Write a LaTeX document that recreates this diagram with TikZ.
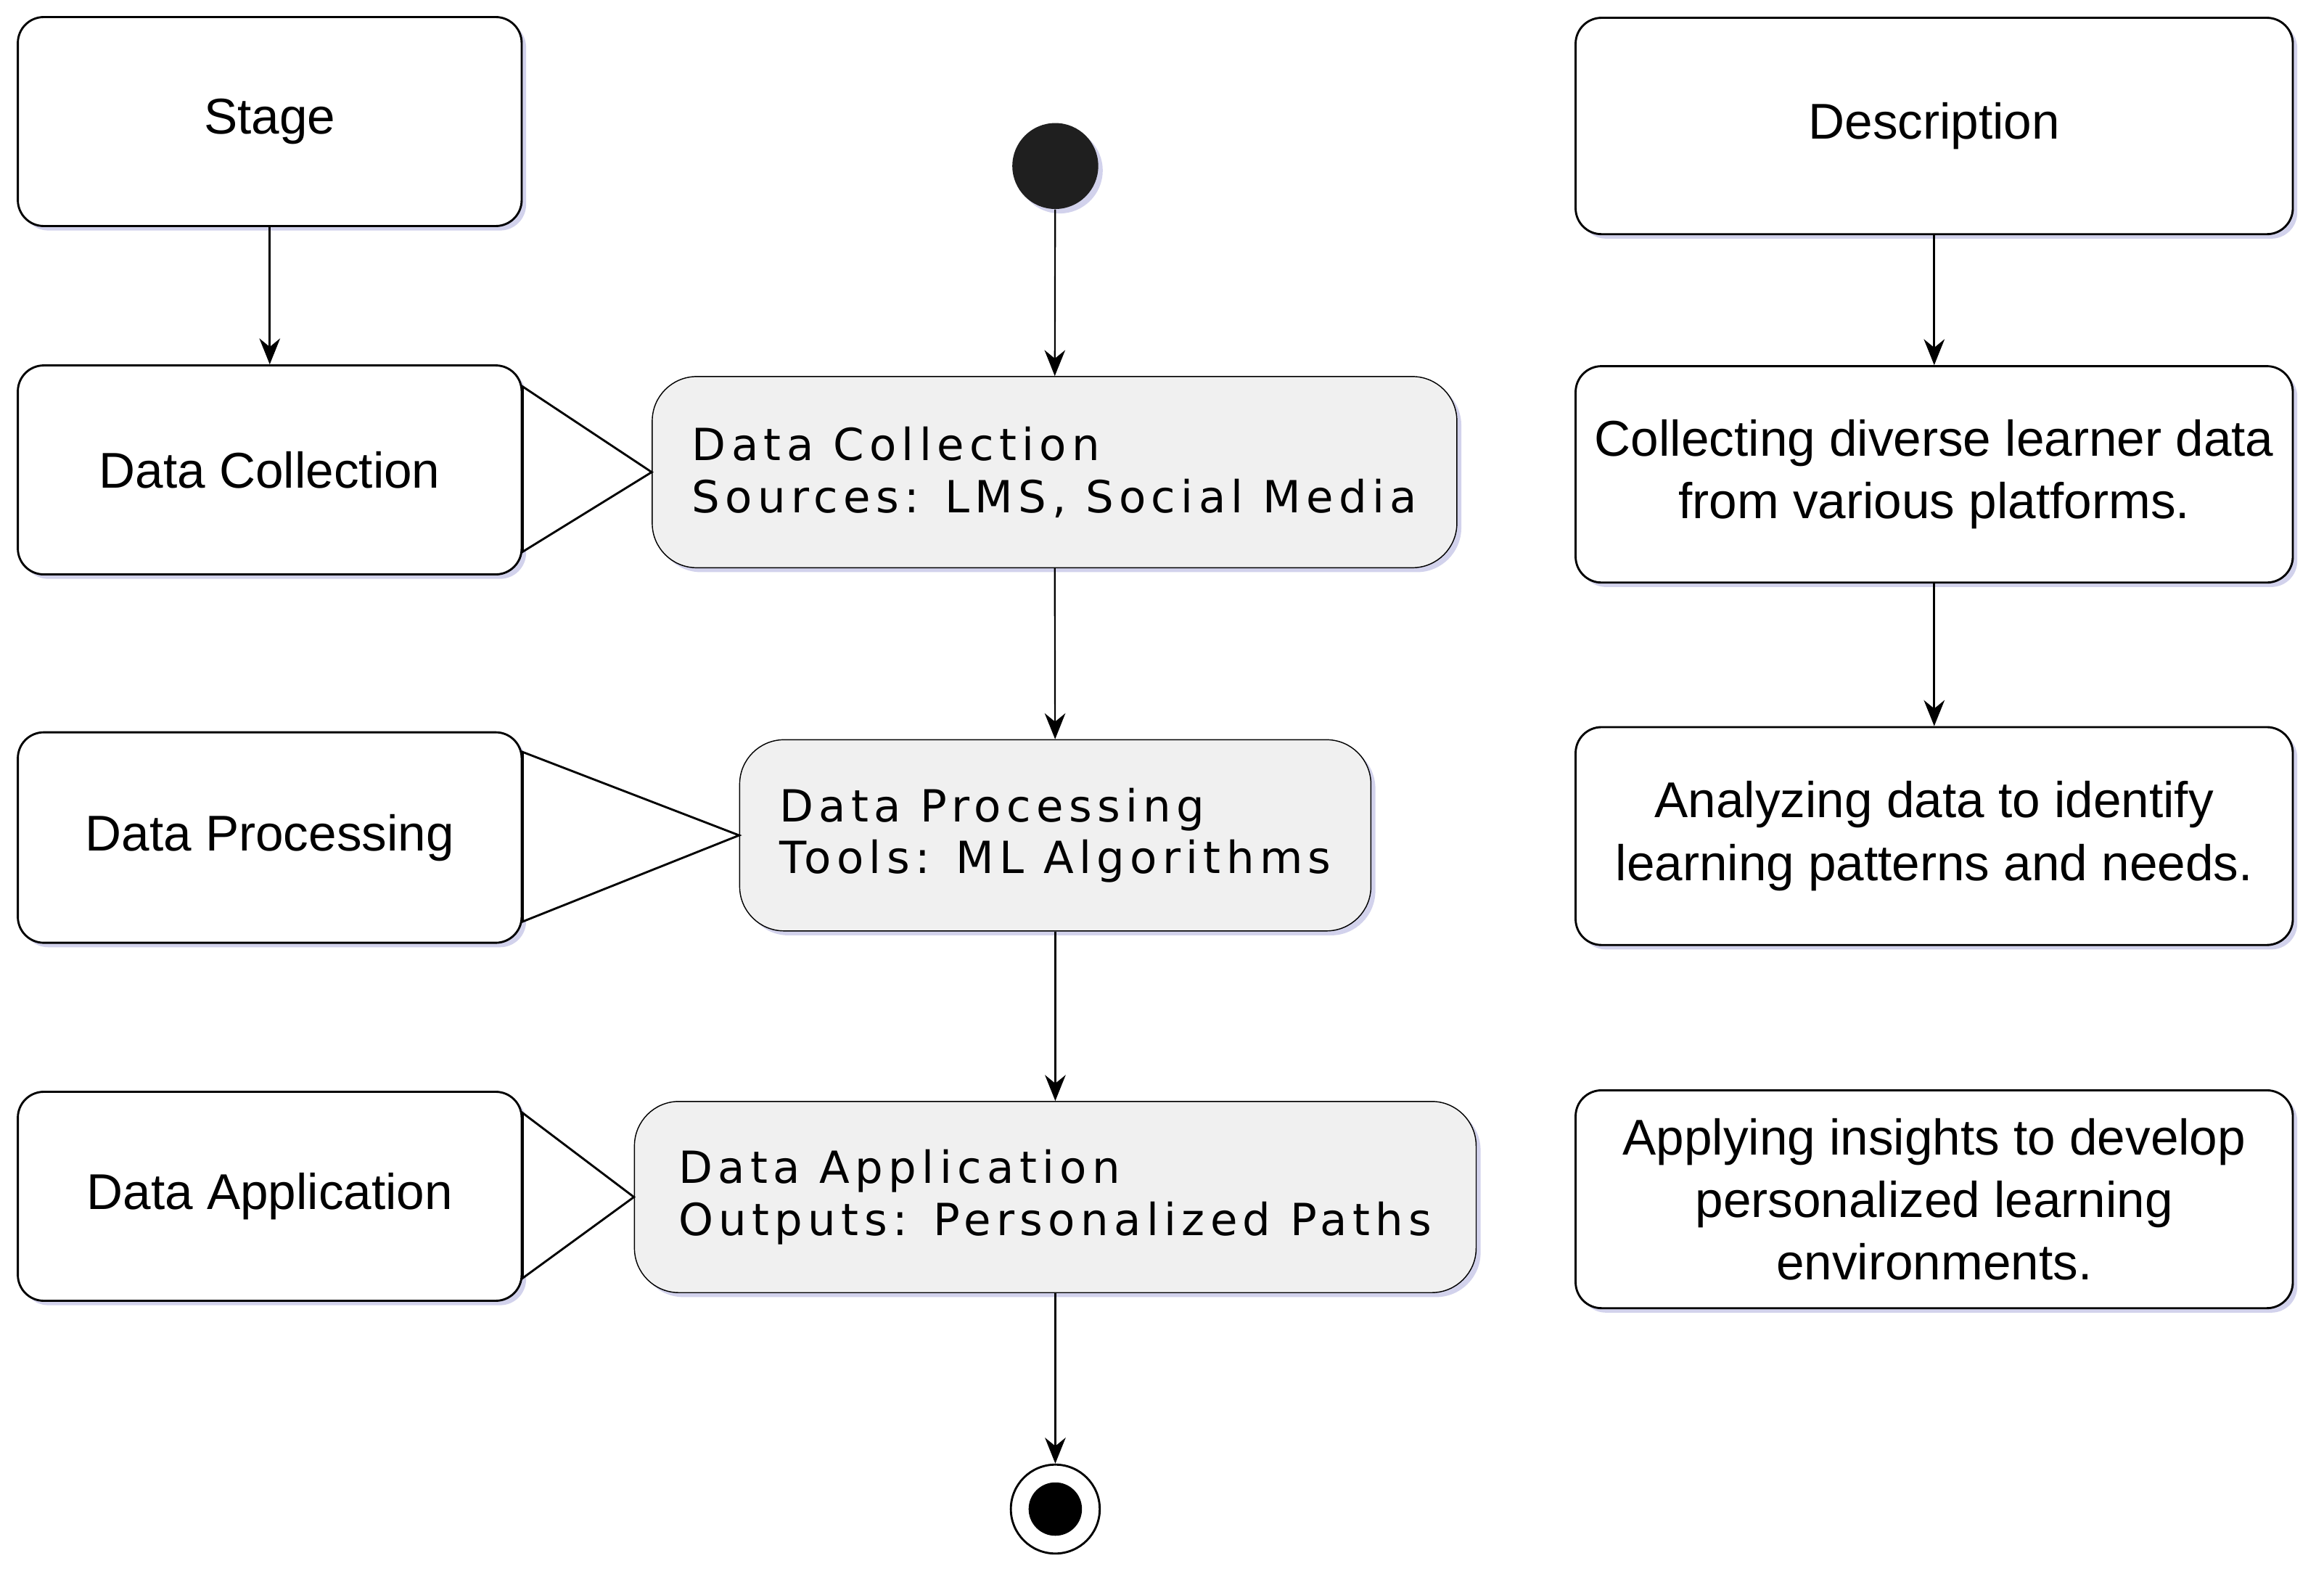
\documentclass[tikz,border=0pt]{standalone}
\usepackage{fontspec}
\setmainfont{Liberation Sans}
\newfontfamily\mono[LetterSpace=12]{DejaVu Sans}
\usetikzlibrary{shadows,arrows.meta}
\begin{document}
\begin{tikzpicture}[x=0.02cm,y=-0.02cm,
 box/.style={draw,thick,rounded corners=0.35cm,fill=white,drop shadow={shadow xshift=0.06cm,shadow yshift=-0.06cm,opacity=0.25,fill=blue!40!gray},inner sep=0pt,align=center,font=\fontsize{19.3}{24}\selectfont},
 act/.style={draw,thin,rounded corners=0.6cm,fill=gray!12,drop shadow={shadow xshift=0.06cm,shadow yshift=-0.06cm,opacity=0.25,fill=blue!40!gray},inner sep=0pt,align=left,font=\mono\fontsize{17}{20}\selectfont},
 arr/.style={-{Stealth[length=0.35cm,width=0.28cm]},thick},
 carr/.style={-{Stealth[length=0.35cm,width=0.28cm]},semithick}]
\useasboundingbox (0,0) rectangle (1568,1067);
% left column
\node[box,minimum width=6.8cm,minimum height=2.82cm] (stage) at (182,82) {Stage};
\node[box,minimum width=6.8cm,minimum height=2.82cm] (lc) at (182,317) {Data Collection};
\node[box,minimum width=6.8cm,minimum height=2.84cm] (lp) at (182,565) {Data Processing};
\node[box,minimum width=6.8cm,minimum height=2.82cm] (la) at (182,807) {Data Application};
% right column
\node[box,minimum width=9.68cm,minimum height=2.92cm] (desc) at (1305,85) {Description};
\node[box,minimum width=9.68cm,minimum height=2.92cm] (rc) at (1305,320) {Collecting diverse learner data\\from various platforms.};
\node[box,minimum width=9.68cm,minimum height=2.94cm] (rp) at (1305,564) {Analyzing data to identify\\learning patterns and needs.};
\node[box,minimum width=9.68cm,minimum height=2.94cm] (ra) at (1305,809) {Applying insights to develop\\personalized learning\\environments.};
% center
\node[circle,fill=black!88,minimum size=1.16cm,inner sep=0pt,drop shadow={shadow xshift=0.06cm,shadow yshift=-0.06cm,opacity=0.25,fill=blue!40!gray}] (start) at (712,112) {};
\node[act,minimum width=10.86cm,minimum height=2.58cm] (cc) at (711.5,318.5) {Data Collection\\Sources: LMS, Social Media};
\node[act,minimum width=8.52cm,minimum height=2.58cm] (cp) at (712,563.5) {Data Processing\\Tools: ML Algorithms};
\node[act,minimum width=11.36cm,minimum height=2.58cm] (ca) at (712,807.5) {Data Application\\Outputs: Personalized Paths};
\node[circle,draw,thick,fill=white,minimum size=1.2cm,inner sep=0pt] (end) at (712,1018) {};
\node[circle,fill=black,minimum size=0.72cm,inner sep=0pt] (endin) at (end) {};
% connectors
\draw[arr] (stage) -- (lc);
\draw[arr] (desc) -- (rc);
\draw[arr] (rc) -- (rp);
\draw[carr] (start) -- (cc);
\draw[carr] (cc) -- (cp);
\draw[carr] (cp) -- (ca);
\draw[carr] (ca) -- (end);
% callout triangles
\draw[thick,fill=white] ([yshift=-0.3cm]lc.north east) -- (cc.west) -- ([yshift=0.32cm]lc.south east) -- cycle;
\draw[thick,fill=white] ([yshift=-0.28cm]lp.north east) -- (cp.west) -- ([yshift=0.3cm]lp.south east) -- cycle;
\draw[thick,fill=white] ([yshift=-0.3cm]la.north east) -- (ca.west) -- ([yshift=0.32cm]la.south east) -- cycle;
\end{tikzpicture}
\end{document}
